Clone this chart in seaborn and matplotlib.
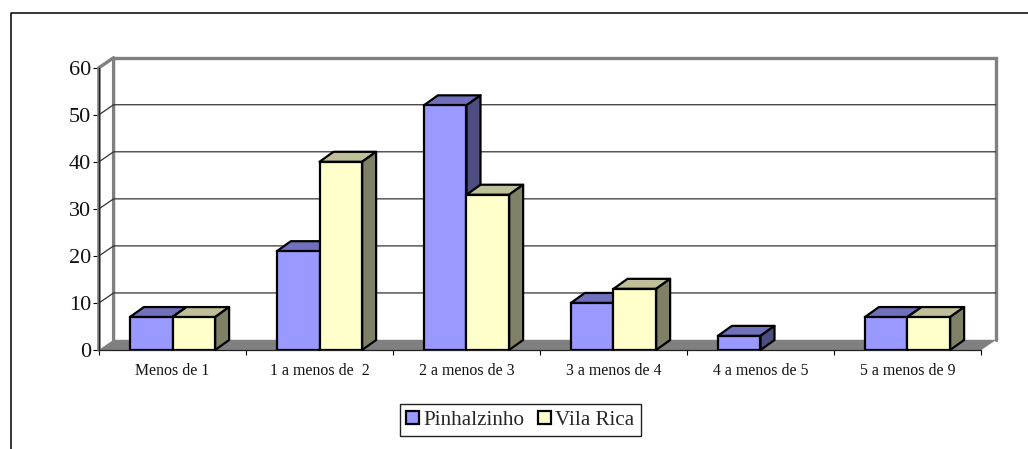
# coding: utf-8
import matplotlib
matplotlib.use('Agg')
import matplotlib.pyplot as plt
from matplotlib.lines import Line2D
from matplotlib.patches import Polygon
import pandas as pd
import seaborn as sns

categories = ['Menos de 1', '1 a menos de  2', '2 a menos de 3',
              '3 a menos de 4', '4 a menos de 5', '5 a menos de 9']
pinhalzinho = [7, 21, 52, 10, 3, 7]
vila_rica = [7, 40, 33, 13, 0, 7]
y_ticks = [0, 10, 20, 30, 40, 50, 60]

W, H = 1028, 449
GREY = '#808080'
EDGE = 1.6
SHADES = {'Pinhalzinho': ('#9999FF', '#7070BC', '#4D4D80'),
          'Vila Rica': ('#FFFFCC', '#BFBF99', '#808066')}

sns.set_style('white')
plt.rcParams['font.family'] = ['Liberation Serif', 'DejaVu Serif']

df = pd.DataFrame({
    'faixa': categories * 2,
    'valor': pinhalzinho + vila_rica,
    'local': ['Pinhalzinho'] * 6 + ['Vila Rica'] * 6,
})

fig = plt.figure(figsize=(W / 100, H / 100), dpi=100)
ax = fig.add_axes([99 / W, 1 - 350 / H, 882 / W, 282.3 / H])
sns.barplot(data=df, x='faixa', y='valor', hue='local', ax=ax, width=0.58, gap=0,
            palette={k: v[0] for k, v in SHADES.items()},
            edgecolor='black', linewidth=EDGE, saturation=1, errorbar=None, legend=True)
ax.set_xlim(-0.5, 5.5)
ax.set_ylim(0, 60)
ax.set_xlabel('')
ax.set_ylabel('')

# depth of the fake 3d, in data units
wall_x, wall_y = 14.6 / 147, 10 / 4.705
bar_x, bar_y = 14 / 147, 10 / 4.705

# floor and back wall
ax.add_patch(Polygon([(-0.5, 0), (5.5, 0), (5.5 + wall_x, wall_y), (-0.5 + wall_x, wall_y)],
                     closed=True, fc=GREY, ec=GREY, lw=0.3, clip_on=False, zorder=1))
x0, x1 = -0.5 + wall_x, 5.5 + wall_x
ax.plot([-0.5, -0.5], [0, 60], color=GREY, lw=2.6, clip_on=False, zorder=1)
ax.plot([-0.5, x0, x0], [60, 60 + wall_y, wall_y], color=GREY, lw=2.4, clip_on=False, zorder=1)
ax.plot([x0, x1, x1], [60 + wall_y, 60 + wall_y, wall_y], color=GREY, lw=2.4,
        clip_on=False, zorder=1, solid_joinstyle='miter')
for v in y_ticks[1:-1]:
    ax.plot([-0.5, x0, x1], [v, v + wall_y, v + wall_y], color='#333333', lw=0.9,
            clip_on=False, zorder=1.5)

# side and top faces for every bar
for i, (name, container) in enumerate(zip(['Pinhalzinho', 'Vila Rica'], ax.containers)):
    _, top_c, side_c = SHADES[name]
    for bar in container:
        h = bar.get_height()
        if h == 0:
            bar.set_visible(False)
            continue
        l, r = bar.get_x(), bar.get_x() + bar.get_width()
        z = 3 + 2 * i
        ax.add_patch(Polygon([(l, h), (r, h), (r + bar_x, h + bar_y), (l + bar_x, h + bar_y)],
                             closed=True, fc=top_c, ec='black', lw=EDGE, clip_on=False,
                             zorder=z, joinstyle='round'))
        ax.add_patch(Polygon([(r, 0), (r + bar_x, bar_y), (r + bar_x, h + bar_y), (r, h)],
                             closed=True, fc=side_c, ec='black', lw=EDGE, clip_on=False,
                             zorder=z, joinstyle='round'))
        bar.set_zorder(z + 1)

sns.despine(ax=ax, top=True, right=True, left=False, bottom=False)
for side in ['left', 'bottom']:
    ax.spines[side].set_color('#222222')
    ax.spines[side].set_linewidth(0.9)
    ax.spines[side].set_zorder(2)

ax.set_yticks(y_ticks)
ax.tick_params(axis='y', length=4.5, width=0.8, color='black', labelsize=16, pad=1,
               left=True, labelcolor='#111111')
ax.set_xticks(range(6))
ax.set_xticklabels(categories)
ax.tick_params(axis='x', which='major', length=0, labelsize=11.4, pad=9.5, labelcolor='#111111')
ax.set_xticks([i - 0.5 for i in range(7)], minor=True)
ax.tick_params(axis='x', which='minor', bottom=True, length=3.8, width=0.8, color='black')

handles, labels = ax.get_legend_handles_labels()
leg = ax.legend(handles, labels, loc='center', ncol=2, bbox_to_anchor=(520.2 / W, 1 - 420.2 / H),
                bbox_transform=fig.transFigure, fontsize=15.2, frameon=True, fancybox=False,
                edgecolor='#222222', framealpha=1, handlelength=0.62, handleheight=0.62,
                handletextpad=0.22, columnspacing=0.62, borderpad=0.3, borderaxespad=0)
leg.get_frame().set_linewidth(1.0)
leg.set_zorder(10)

# outer frame, cut at the bottom and the right
fig.add_artist(Line2D([11 / W, 11 / W, 1], [0, 1 - 12.5 / H, 1 - 12.5 / H], color='black', lw=1.1))

fig.savefig('out.png', dpi=100)
